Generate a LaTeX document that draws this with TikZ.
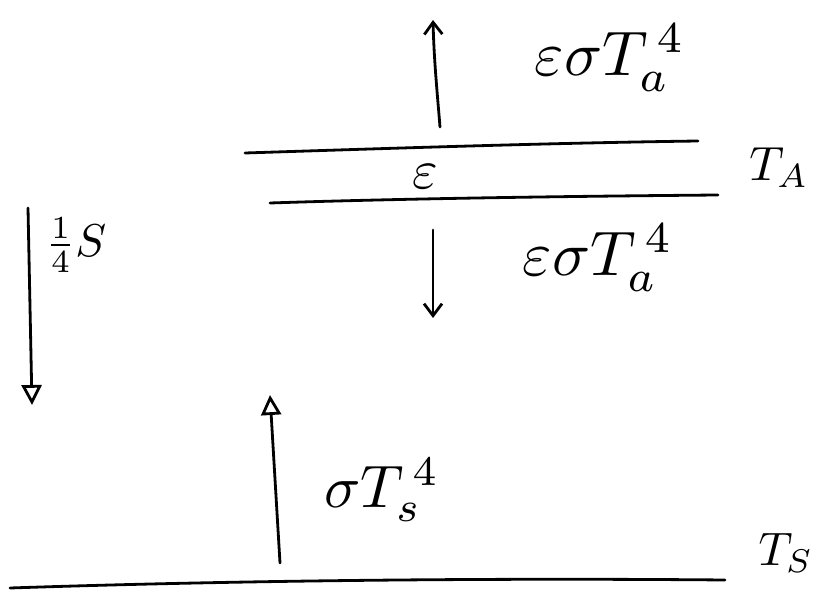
\documentclass[tikz,border=0pt]{standalone}
\usetikzlibrary{arrows.meta}
\begin{document}
\begin{tikzpicture}[x=1pt,y=-1pt,
  ink/.style={line width=2.8pt,line cap=round,black},
  flux/.style={ink,-{Straight Barb[length=12pt,width=18pt,line width=2.8pt]}},
  fluxtri/.style={ink,-{Triangle[open,length=20pt,width=20pt,line width=2.8pt]}},
  lbl/.style={inner sep=0pt,transform shape,scale=#1},
  lbl/.default=6.3]
\useasboundingbox (0,0) rectangle (823,596);
% layers
\coordinate (ua) at (245,153); \coordinate (ub) at (698,141);
\coordinate (la) at (270,203); \coordinate (lb) at (718,195);
\coordinate (sa) at (10,588); \coordinate (sb) at (725,580);
\draw[ink] (ua) .. controls (400,148) and (550,143) .. (ub);
\draw[ink] (la) .. controls (420,198) and (600,196) .. (lb);
\draw[ink] (sa) .. controls (250,580) and (500,578) .. (sb);
% arrows
\coordinate (t0) at (440,127); \coordinate (t1) at (433,20);
\draw[flux] (t0) .. controls (437,90) and (434,60) .. (t1);
\coordinate (d0) at (433,230); \coordinate (d1) at (433,318);
\draw[flux] (d0) -- (d1);
\coordinate (s0) at (28,208); \coordinate (s1) at (32,405);
\draw[fluxtri] (s0) -- (s1);
\coordinate (g0) at (280,563); \coordinate (g1) at (270,395);
\draw[fluxtri] (g0) -- (g1);
% labels
\node[lbl] (l1) at (610,58) {$\varepsilon\sigma T_a^{\,4}$};
\node[lbl=5.5] (l2) at (425,177) {$\varepsilon$};
\node[lbl=4.8] (l3) at (779,168) {$T_A$};
\node[lbl] (l4) at (598,258) {$\varepsilon\sigma T_a^{\,4}$};
\node[lbl=4.6] (l5) at (76,245) {$\frac{1}{4}S$};
\node[lbl=6.0] (l6) at (382,490) {$\sigma T_s^{\,4}$};
\node[lbl=4.7] (l7) at (786,553) {$T_S$};
\end{tikzpicture}
\end{document}
